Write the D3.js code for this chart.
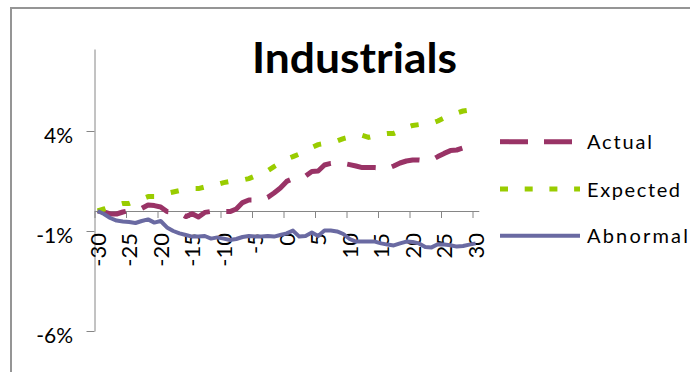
<!DOCTYPE html>
<html>
<head>
<meta charset="utf-8">
<script src="https://cdn.jsdelivr.net/npm/d3@7"></script>
<style>
  html, body { margin: 0; padding: 0; background: #fff; }
  svg { display: block; }
  text { font-family: Lato, "Open Sans", sans-serif; fill: #000; }
</style>
</head>
<body>
<svg id="chart" width="690" height="372"></svg>
<script>
// Event window, days relative to the announcement
const days = [
  -30, -29, -28, -27, -26, -25, -24, -23, -22, -21,
  -20, -19, -18, -17, -16, -15, -14, -13, -12, -11,
  -10, -9, -8, -7, -6, -5, -4, -3, -2, -1,
  0, 1, 2, 3, 4, 5, 6, 7, 8, 9,
  10, 11, 12, 13, 14, 15, 16, 17, 18, 19,
  20, 21, 22, 23, 24, 25, 26, 27, 28, 29, 30
];

// Cumulative returns, in percent
const actual = [
  0.00, -0.05, -0.15, -0.15, -0.05, 0.02, 0.08, 0.13, 0.30, 0.27,
  0.20, -0.03, -0.06, -0.10, -0.28, -0.14, -0.30, -0.07, -0.02, -0.03,
  -0.03, -0.03, 0.10, 0.42, 0.55, 0.55, 0.55, 0.68, 0.90, 1.15,
  1.48, 1.62, 1.68, 1.75, 1.98, 2.00, 2.30, 2.38, 2.40, 2.38,
  2.32, 2.25, 2.17, 2.17, 2.17, 2.15, 2.12, 2.25, 2.40, 2.50,
  2.55, 2.55, 2.52, 2.55, 2.72, 2.88, 3.02, 3.05, 3.15, 3.25, 3.35
];
const expected = [
  0.00, 0.10, 0.20, 0.30, 0.38, 0.38, 0.50, 0.60, 0.72, 0.72,
  0.82, 0.88, 0.95, 1.02, 1.08, 1.12, 1.12, 1.20, 1.28, 1.33,
  1.42, 1.48, 1.52, 1.55, 1.62, 1.75, 1.88, 2.02, 2.22, 2.40,
  2.60, 2.72, 2.85, 3.02, 3.18, 3.32, 3.38, 3.45, 3.50, 3.62,
  3.70, 3.78, 3.78, 3.68, 3.75, 3.85, 3.88, 3.88, 4.02, 4.18,
  4.28, 4.32, 4.35, 4.38, 4.50, 4.65, 4.78, 4.90, 5.00, 5.05, 5.10
];
const abnormal = [
  0.00, -0.15, -0.35, -0.48, -0.52, -0.55, -0.60, -0.50, -0.42, -0.58,
  -0.50, -0.82, -1.00, -1.12, -1.20, -1.28, -1.28, -1.25, -1.38, -1.32,
  -1.38, -1.45, -1.40, -1.30, -1.25, -1.28, -1.28, -1.25, -1.28, -1.20,
  -1.12, -0.98, -1.28, -1.25, -1.08, -1.25, -0.98, -0.98, -1.02, -1.15,
  -1.40, -1.53, -1.53, -1.53, -1.53, -1.62, -1.68, -1.72, -1.62, -1.53,
  -1.55, -1.62, -1.80, -1.82, -1.66, -1.68, -1.71, -1.78, -1.75, -1.68, -1.62
];

// Axis tick labels
const yTicks = [-6, -1, 4];
const xLabelDays = [-30, -25, -20, -15, -10, -5, 0, 5, 10, 15, 20, 25, 30];

// dash/gap: stroke pattern; tail: length of path left undrawn after the last dash
const seriesList = [
  { name: "Actual",   values: actual,   color: "#993366", width: 5, dash: [28, 16],   tail: 14, textLen: 65 },
  { name: "Expected", values: expected, color: "#99CC00", width: 5, dash: [8, 16.7],  tail: 9,  textLen: 93 },
  { name: "Abnormal", values: abnormal, color: "#6A6AA2", width: 4, dash: null,      tail: 0,  textLen: 101 }
];

const svg = d3.select("#chart");

// Chart frame
svg.append("rect")
  .attr("x", 11).attr("y", 8)
  .attr("width", 800).attr("height", 500)
  .attr("fill", "none")
  .attr("stroke", "#959595")
  .attr("stroke-width", 2);

const left = 94.5, right = 478.8;
const x = d3.scaleBand().domain(days).range([left, right]).paddingInner(0).paddingOuter(0);
const xi = d3.scaleLinear().domain([0, days.length]).range([left, right]);
const y = d3.scaleLinear().domain([-6, 8.1]).range([331, 49]);
const cx = d => x(d) + x.bandwidth() / 2;

// Title
svg.append("text")
  .attr("x", 354.5).attr("y", 73)
  .attr("text-anchor", "middle")
  .attr("font-weight", 700)
  .attr("font-size", 42)
  .attr("textLength", 205)
  .attr("lengthAdjust", "spacingAndGlyphs")
  .text("Industrials");

// Value axis
const yAxis = svg.append("g")
  .attr("transform", `translate(${left},0)`)
  .call(d3.axisLeft(y).tickValues(yTicks).tickSize(8).tickSizeOuter(0)
    .tickPadding(13.5).tickFormat(d => d + "%"));
yAxis.select(".domain").attr("stroke", "#868686");
yAxis.selectAll(".tick line").attr("stroke", "#868686");
yAxis.selectAll(".tick text")
  .attr("font-size", 21)
  .attr("dy", "0.55em")
  .style("font-family", "Lato, sans-serif");

// Category axis line and tick marks (between categories, every fifth day)
const xAxis = svg.append("g")
  .attr("transform", `translate(0,${y(0)})`)
  .call(d3.axisBottom(xi).tickValues(d3.range(0, days.length, 5)).tickSize(7)
    .tickSizeOuter(0).tickFormat(""));
xAxis.select(".domain").attr("stroke", "#868686");
xAxis.selectAll(".tick line").attr("stroke", "#868686");

// Category labels, rotated
const xLab = svg.append("g")
  .attr("transform", `translate(0,${y(0)})`)
  .call(d3.axisBottom(x).tickValues(xLabelDays).tickSize(0));
xLab.select(".domain").remove();
xLab.selectAll(".tick text")
  .attr("transform", "rotate(-90)")
  .attr("x", -22)
  .attr("y", 0)
  .attr("dy", "0.36em")
  .attr("text-anchor", "end")
  .attr("font-size", 22)
  .style("font-family", "Lato, sans-serif");

// Series lines
const line = d3.line()
  .x((v, i) => cx(days[i]))
  .y(v => y(v));

// Stretch the dash pattern slightly so the stroke ends inside a gap
// (tail is kept shorter than the gap).
function fitDash(path, dash, tail) {
  const L = path.node().getTotalLength();
  const period = dash[0] + dash[1];
  const gapShare = dash[1] / period;
  const k = Math.max(1, Math.round((L - tail) / period + gapShare));
  const p = (L - tail) / (k - gapShare);
  return `${(p * (1 - gapShare)).toFixed(2)},${(p * gapShare).toFixed(2)}`;
}

seriesList.forEach(s => {
  const path = svg.append("path")
    .datum(s.values)
    .attr("d", line)
    .attr("fill", "none")
    .attr("stroke", s.color)
    .attr("stroke-width", s.width)
    .attr("stroke-linejoin", "round");
  if (s.dash) path.attr("stroke-dasharray", fitDash(path, s.dash, s.tail));
});

// Legend
const legendY = [141.7, 189, 235.7];
const legend = svg.append("g");
seriesList.forEach((s, i) => {
  legend.append("line")
    .attr("x1", 500).attr("x2", 580)
    .attr("y1", legendY[i]).attr("y2", legendY[i])
    .attr("stroke", s.color)
    .attr("stroke-width", s.width)
    .attr("stroke-dasharray", s.dash ? s.dash.join(",") : null);
  legend.append("text")
    .attr("x", 587)
    .attr("y", legendY[i] + 7.5)
    .attr("font-size", 20)
    .attr("textLength", s.textLen)
    .attr("lengthAdjust", "spacing")
    .text(s.name);
});
</script>
</body>
</html>
